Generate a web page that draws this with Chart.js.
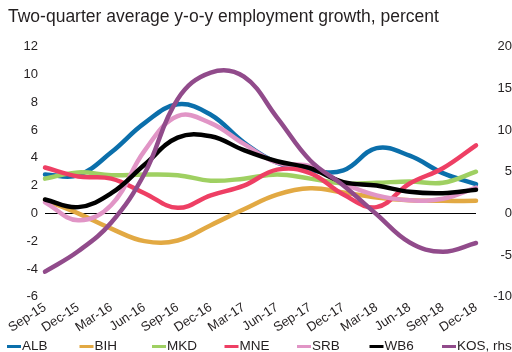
<!DOCTYPE html>
<html>
<head>
<meta charset="utf-8">
<script src="https://cdn.jsdelivr.net/npm/chart.js@4/dist/chart.umd.min.js"></script>
<style>
  html, body { margin: 0; padding: 0; background: #fff; }
  #wrap { width: 512px; height: 352px; }
</style>
</head>
<body>
<div id="wrap"><canvas id="myChart" width="512" height="352"></canvas></div>
<script>
// quarters on the x axis
const labels = ['Sep-15', 'Dec-15', 'Mar-16', 'Jun-16', 'Sep-16', 'Dec-16', 'Mar-17',
                'Jun-17', 'Sep-17', 'Dec-17', 'Mar-18', 'Jun-18', 'Sep-18', 'Dec-18'];

// employment growth, percent (left axis)
const alb = [2.8, 2.75, 4.4, 6.5, 7.85, 7.1, 5.1, 3.65, 3.1, 3.1, 4.7, 4.15, 2.9, 2.1];
const bih = [0.95, 0.0, -1.1, -2.0, -1.95, -0.85, 0.3, 1.35, 1.8, 1.5, 1.15, 0.95, 0.9, 0.9];
const mkd = [2.5, 2.95, 2.75, 2.8, 2.75, 2.35, 2.5, 2.8, 2.5, 2.15, 2.2, 2.3, 2.2, 3.0];
const mne = [3.3, 2.65, 2.5, 1.45, 0.4, 1.3, 2.0, 3.15, 2.9, 1.35, 0.45, 2.15, 3.25, 4.9];
const srb = [0.8, -0.5, 0.6, 4.5, 7.0, 6.5, 5.0, 3.65, 3.4, 2.15, 1.3, 0.95, 1.05, 1.85];
const wb6 = [1.0, 0.45, 1.45, 3.5, 5.45, 5.55, 4.55, 3.75, 3.25, 2.25, 2.0, 1.55, 1.45, 1.7];
// Kosovo on the right-hand axis
const kos = [-7.0, -4.55, -1.1, 4.75, 13.7, 16.9, 16.4, 11.5, 6.35, 3.35, -0.1, -3.5, -4.6, -3.55];

const FONT = "'Liberation Sans', Arial, sans-serif";
const INK = '#231f20';

function series(label, data, color, order, axis) {
    return {
        label: label,
        data: data,
        borderColor: color,
        backgroundColor: color,
        borderWidth: 4.5,
        borderCapStyle: 'round',
        borderJoinStyle: 'round',
        pointRadius: 0,
        tension: 0.4,
        fill: false,
        clip: false,
        order: order,
        yAxisID: axis || 'y'
    };
}

// legend in evenly spaced slots under the axis
const slotLegend = {
    id: 'slotLegend',
    afterDraw(chart) {
        const ctx = chart.ctx;
        ctx.save();
        ctx.font = '13.5px ' + FONT;
        ctx.textBaseline = 'middle';
        ctx.fillStyle = INK;
        chart.data.datasets.forEach((ds, i) => {
            const x = 7 + i * 72.5;
            const y = 346.5;
            ctx.strokeStyle = ds.borderColor;
            ctx.lineWidth = 3;
            ctx.beginPath();
            ctx.moveTo(x, y);
            ctx.lineTo(x + 14, y);
            ctx.stroke();
            ctx.fillText(ds.label, x + 15, y);
        });
        ctx.restore();
    }
};

var ctx = document.getElementById('myChart').getContext('2d');
var myChart = new Chart(ctx, {
    type: 'line',
    data: {
        labels: labels,
        datasets: [
            series('ALB', alb, '#0b6fab', 6),
            series('BIH', bih, '#e2a943', 5),
            series('MKD', mkd, '#9fd062', 4),
            series('MNE', mne, '#ee3f64', 3),
            series('SRB', srb, '#e195c6', 2),
            series('WB6', wb6, '#000000', 1),
            series('KOS, rhs', kos, '#914b8b', 0, 'y2')
        ]
    },
    options: {
        responsive: false,
        animation: false,
        layout: { padding: { left: 8, right: 0, top: 0, bottom: 0 } },
        scales: {
            x: {
                offset: false,
                grid: { display: false, drawTicks: false },
                border: { display: false },
                ticks: {
                    color: INK,
                    font: { family: FONT, size: 13 },
                    autoSkip: false,
                    minRotation: 33,
                    maxRotation: 33,
                    padding: 3
                },
                afterFit: (s) => { s.height = 55.3; }
            },
            y: {
                position: 'left',
                min: -6,
                max: 12,
                ticks: {
                    stepSize: 2,
                    color: INK,
                    font: { family: FONT, size: 13 },
                    padding: 7
                },
                grid: {
                    drawTicks: false,
                    lineWidth: 1,
                    color: (c) => (c.tick && c.tick.value === 0 ? '#000000' : 'rgba(0,0,0,0)')
                },
                border: { display: false },
                afterFit: (s) => { s.width = 37; }
            },
            y2: {
                position: 'right',
                min: -10,
                max: 20,
                ticks: {
                    stepSize: 5,
                    color: INK,
                    font: { family: FONT, size: 13 },
                    crossAlign: 'far',
                    padding: 10
                },
                grid: { display: false, drawTicks: false },
                border: { display: false },
                afterFit: (s) => { s.width = 36; }
            }
        },
        plugins: {
            legend: { display: false },
            tooltip: { enabled: false },
            title: {
                display: true,
                text: 'Two-quarter average y-o-y employment growth, percent',
                align: 'start',
                color: INK,
                font: { family: FONT, size: 17.5, weight: 'normal' },
                padding: { top: 7, bottom: 18.7 }
            }
        }
    },
    plugins: [slotLegend]
});
</script>
</body>
</html>
